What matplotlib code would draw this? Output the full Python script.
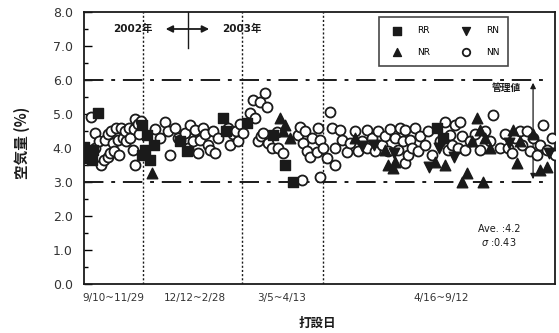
import matplotlib
matplotlib.use('Agg')
import matplotlib.pyplot as plt
import matplotlib.transforms as mtransforms

plt.rcParams['font.family'] = ['DejaVu Sans', 'Noto Sans CJK JP']

# ── data (sample index, air content %) ───────────────────────────────────────
nn_x = [3, 4.4, 4.4, 6, 7, 8, 8.5, 9.5, 9.5, 10.5, 11, 11.5, 12, 13, 13.5, 14, 15, 15.5,
        16.5, 17, 18, 18.5, 19.5, 20, 20.5, 20.5, 21.5, 22, 23,
        28.4, 30.4, 32.4, 33.6, 34.4, 36.4, 37.6, 38.4, 40.4, 41.6, 42.4, 43.6, 44.4, 45.6,
        46.4, 47.6, 48.4, 49.6, 50.4, 51.6, 52.4, 53.6, 57.6, 58.4, 59.6, 60.8, 61.6, 62.4,
        63.6, 66.4, 67.6, 68.4, 69.6, 70.4, 70.8, 71.6, 72.4, 73.2, 73.6, 75.2, 77.2, 77.6,
        79.6, 85.6, 86.4, 87.2, 87.6, 88.4, 89.2, 90.4, 91.2, 93.2, 93.6, 94.4, 94.4,
        95.6, 97.2, 98.4, 99.2, 100.4, 100.4, 102.4, 103.2, 105.2, 106.4, 108.4, 109.6,
        111.2, 113.2, 113.2, 115.2, 116.4, 117.6, 119.2, 120.4, 121.6, 122.4, 124.4, 125.6,
        126.4, 127.6, 128.4, 128.4, 129.6, 130.4, 131.2, 132.4, 133.6, 134.4, 136.4, 137.6,
        139.2, 142.4, 144.4, 145.6, 146.4, 147.2, 148.4, 149.6, 150.4, 151.2, 152.4, 154.4,
        156.4, 158.4, 160.4, 162.4, 163.6, 166.4, 168.4, 169.6, 171.2, 172.4, 174.4, 175.2,
        177.2, 178.4, 179.6, 181.2, 182.4, 183.6, 185.2, 187.2, 188.4]
nn_y = [4.9, 4.45, 4.0, 4.2, 3.5, 3.65, 4.25, 3.75, 4.4, 3.85, 4.5, 4.15, 3.9, 4.6, 4.25, 3.8, 4.6, 4.3,
        4.5, 4.2, 4.6, 4.3, 3.95, 4.55, 4.85, 3.5, 4.7, 4.4, 4.8,
        4.55, 4.3, 4.76, 4.5, 3.8, 4.59, 4.3, 4.24, 4.44, 4.0, 4.68, 4.2, 4.53, 3.85,
        4.24, 4.6, 4.4, 4.1, 3.94, 4.5, 3.85, 4.3, 4.6, 4.1, 4.4, 4.5, 4.2, 4.7,
        4.44, 5.03, 5.41, 4.88, 4.2, 5.35, 4.35, 4.44, 5.62, 5.2, 4.15, 4.0, 4.47, 4.0,
        3.85, 4.38, 4.62, 3.06, 4.15, 4.5, 3.9, 3.74, 4.3, 3.88, 4.59, 4.24, 3.15,
        4.0, 3.7, 5.06, 4.59, 3.5, 4.0, 4.53, 4.24, 3.88, 4.15, 4.5, 3.9,
        4.2, 4.53, 4.0, 4.3, 3.9, 4.5, 4.1, 4.35, 3.9, 4.55, 4.3, 3.95,
        4.6, 4.2, 4.53, 3.56, 3.8, 4.24, 4.0, 4.6, 3.9, 4.35, 4.1, 4.5,
        3.8, 4.2, 4.76, 3.95, 4.38, 4.1, 4.68, 4.0, 4.76, 4.35, 3.94, 4.2,
        4.4, 3.95, 4.5, 4.2, 4.97, 4.0, 4.4, 4.0, 3.85, 4.3, 4.5, 4.1,
        4.5, 3.9, 4.3, 3.8, 4.1, 4.68, 3.95, 4.3, 3.8]

rr_x = [0, 0.5, 3.2, 3.6, 5.6, 23.2, 23.2, 24.4, 25.2, 26.4, 28.0, 38.4, 41.2,
        55.6, 56.8, 65.2, 75.6, 80.4, 83.6, 141.0, 143.6]
rr_y = [4.03, 3.7, 3.65, 3.94, 5.03, 4.68, 3.8, 3.94, 4.38, 3.65, 4.1, 4.2, 3.9,
        4.88, 4.5, 4.74, 4.38, 3.5, 3.0, 4.6, 4.3]

rn_x = [111.2, 116.0, 124.0, 138.0, 142.0, 148.0, 170.0, 186.0]
rn_y = [4.05, 4.1, 3.85, 3.45, 4.0, 3.75, 4.15, 3.85]

nr_x = [27.2, 78.4, 79.6, 80.4, 82.4, 108.4, 120.4, 121.6, 123.6, 124.4, 140.4, 144.4,
        151.2, 153.2, 155.2, 157.2, 158.4, 159.6, 160.4, 162.4, 171.6, 173.2, 174.4,
        179.6, 182.4, 185.2]
nr_y = [3.26, 4.88, 4.5, 4.68, 4.3, 4.3, 3.95, 3.5, 3.4, 3.6, 3.6, 3.5,
        3.0, 3.26, 4.2, 4.88, 4.53, 3.0, 4.3, 4.0, 4.53, 3.56, 4.2,
        4.4, 3.35, 3.44]

period_bounds = [23.6, 63.2, 95.6]
period_labels = ['9/10~11/29', '12/12~2/28', '3/5~4/13', '4/16~9/12']
period_label_x = [12.0, 44.4, 79.2, 142.8]
limit_upper, limit_lower = 6.0, 3.0
ave, sigma = 4.2, 0.43

ink = '#1a1a1a'

fig = plt.figure(figsize=(5.59, 3.33), dpi=100)
ax = fig.add_axes([0.150, 0.147, 0.843, 0.817])

ax.scatter(nn_x, nn_y, s=52, marker='o', facecolor='white', edgecolor=ink, linewidth=1.3,
           zorder=3, label='NN')
ax.scatter(rr_x, rr_y, s=52, marker='s', color=ink, zorder=4, label='RR')
ax.scatter(rn_x, rn_y, s=58, marker='v', color=ink, zorder=4, label='RN')
ax.scatter(nr_x, nr_y, s=58, marker='^', color=ink, zorder=4, label='NR')

for xb in period_bounds:
    ax.axvline(xb, color=ink, lw=1.0, ls=(0, (1.5, 1.5)), zorder=1)

for lv in (limit_upper, limit_lower):
    ax.plot([0, 185.6], [lv, lv], color=ink, lw=1.4, ls=(0, (10, 4, 2, 4)), zorder=2)

# 管理値 arrow
ax.annotate('', xy=(179.6, limit_upper), xytext=(179.6, limit_lower),
            arrowprops=dict(arrowstyle='<|-|>', color=ink, lw=0.9, mutation_scale=8), zorder=2)
ax.text(169.0, 5.77, '管理値', fontsize=7, color=ink, ha='center', va='center',
        family=['Noto Sans CJK JP'], fontweight='bold')

# year marker
ax.text(27.6, 7.5, '2002年', fontsize=7.5, color=ink, ha='right', va='center',
        family=['DejaVu Sans', 'Noto Sans CJK JP'], fontweight='bold')
ax.text(55.2, 7.5, '2003年', fontsize=7.5, color=ink, ha='left', va='center',
        family=['DejaVu Sans', 'Noto Sans CJK JP'], fontweight='bold')
ax.annotate('', xy=(31.6, 7.5), xytext=(51.2, 7.5),
            arrowprops=dict(arrowstyle='<|-|>', color=ink, lw=1.3, mutation_scale=10))
ax.plot([41.6, 41.6], [6.94, 8.0], color=ink, lw=1.0)

ax.text(166.0, 1.61, 'Ave. :4.2', fontsize=7, color=ink, ha='center', va='center')
ax.text(166.0, 1.23, '$\\sigma$ :0.43', fontsize=7, color=ink, ha='center', va='center')

ax.set_xlim(0, 188.4)
ax.set_ylim(0, 8)
ax.set_yticks([i * 1.0 for i in range(9)])
ax.set_yticks([i * 0.5 + 0.5 for i in range(0, 16, 2)], minor=True)
ax.set_yticklabels(['%.1f' % v for v in range(9)], fontsize=9, color='#333333')
ax.tick_params(axis='y', which='major', direction='in', length=6, width=1.0, pad=8)
ax.tick_params(axis='y', which='minor', direction='in', length=3, width=1.0)
ax.set_xticks([])
for sp in ax.spines.values():
    sp.set_color(ink)
    sp.set_linewidth(1.3)

trans = mtransforms.blended_transform_factory(ax.transData, ax.transAxes)
for lx, lab in zip(period_label_x, period_labels):
    ax.text(lx, -0.05, lab, transform=trans, fontsize=7.5, color='#333333',
            ha='center', va='center')

fig.text(0.567, 0.03, '打設日', fontsize=9, color=ink, ha='center', va='center',
         family=['Noto Sans CJK JP'], fontweight='bold')
fig.text(0.04, 0.57, '空気量 (%)', fontsize=10.5, color=ink, ha='center', va='center',
         rotation=90, family=['Noto Sans CJK JP'], fontweight='bold')

handles, labels = ax.get_legend_handles_labels()
order = [labels.index(k) for k in ['RR', 'NR', 'RN', 'NN']]
leg = ax.legend([handles[i] for i in order], [labels[i] for i in order],
                ncol=2, loc='upper left', bbox_to_anchor=(0.626, 0.982), borderaxespad=0,
                fontsize=6.5, frameon=True, fancybox=False, edgecolor=ink,
                handletextpad=1.2, columnspacing=3.0, labelspacing=1.4,
                borderpad=1.0, markerscale=0.75)
leg.get_frame().set_linewidth(1.2)

fig.savefig('out.png', dpi=100, facecolor='white')
